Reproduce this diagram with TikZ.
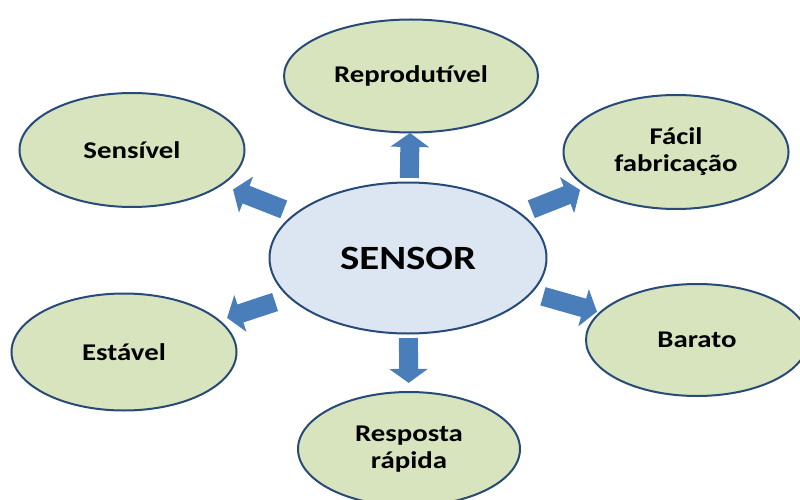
\documentclass[tikz,border=0pt]{standalone}
\usepackage{fontspec}
\setmainfont{Carlito}[FakeStretch=1.2]
\usepackage{xcolor}
\usetikzlibrary{shapes.geometric, arrows.meta, calc}
\definecolor{leafgreen}{HTML}{D7E4BD}
\definecolor{corefill}{HTML}{DCE6F2}
\definecolor{rimblue}{HTML}{274A78}
\definecolor{arrowblue}{HTML}{4A7EBB}

\begin{document}
\begin{tikzpicture}[
    x=1pt, y=-1pt,
    core/.style={ellipse, draw=rimblue, line width=2pt, fill=corefill, minimum width=277pt, minimum height=151pt, inner sep=0pt, font=\fontsize{34}{38}\selectfont\bfseries},
    leaf/.style={ellipse, draw=rimblue, line width=2pt, fill=leafgreen, minimum width=225pt, minimum height=114pt, inner sep=0pt, align=center, font=\fontsize{24}{27}\selectfont\bfseries},
    push/.style={line width=19pt, arrowblue, -{Triangle[width=38pt,length=14pt]}}
]
    \useasboundingbox (0,0) rectangle (800,500);

    \node [core] (sensor) at (408,258) {SENSOR};

    \node [leaf, minimum width=254pt, minimum height=113pt] (repro) at (411,76) {Reprodutível};
    \node [leaf] (sens) at (132,150) {Sensível};
    \node [leaf] (facil) at (676,152) {Fácil\\fabricação};
    \node [leaf, minimum height=117pt] (estavel) at (124,352) {Estável};
    \node [leaf, minimum width=222pt, minimum height=112pt] (barato) at (697,340) {Barato};
    \node [leaf, minimum width=222pt] (resposta) at (409,449) {Resposta\\rápida};

    \draw [push] ($(sensor)!0.44!(repro)$) -- ($(sensor)!0.687!(repro)$);
    \draw [push] ($(sensor)!0.45!(sens)$) -- ($(sensor)!0.634!(sens)$);
    \draw [push] ($(sensor)!0.46!(facil)$) -- ($(sensor)!0.642!(facil)$);
    \draw [push] ($(sensor)!0.467!(barato)$) -- ($(sensor)!0.654!(barato)$);
    \draw [push] ($(sensor)!0.468!(estavel)$) -- ($(sensor)!0.637!(estavel)$);
    \draw [push] ($(sensor)!0.419!(resposta)$) -- ($(sensor)!0.654!(resposta)$);
\end{tikzpicture}
\end{document}
